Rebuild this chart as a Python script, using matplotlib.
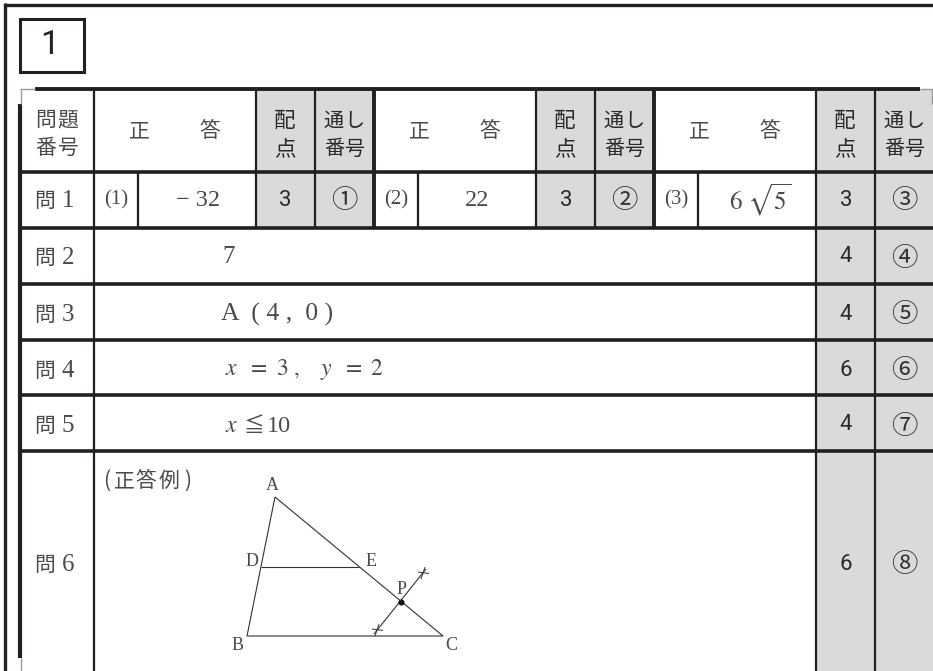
import matplotlib
matplotlib.use("Agg")
import matplotlib.pyplot as plt
from matplotlib.patches import Rectangle

plt.rcParams['font.family'] = ['Noto Sans CJK JP', 'DejaVu Sans']
plt.rcParams['mathtext.fontset'] = 'stix'

W, H = 933, 671
INK = "#231f20"
TXT = "#4a4a4a"
GRAY = "#d9dadc"
SERIF = "Liberation Serif"
SANS = "Roboto"

# table contents
section = "1"
row_names = ["問", "問", "問", "問", "問", "問"]
row_nums = ["1", "2", "3", "4", "5", "6"]
header_left = ["問題", "番号"]
points_head = ["配", "点"]
serial_head = ["通し", "番号"]
part_labels = ["(1)", "(2)", "(3)"]
points = ["3", "3", "3", "4", "4", "6", "4", "6"]
serials = ["①", "②", "③", "④", "⑤", "⑥", "⑦", "⑧"]
answer_head = ["正", "答"]
example = ["(", "正", "答", "例", ")"]
example_x = [107, 124, 146, 169, 188]

# grid, in pixels
row_y = [172, 228, 284, 340, 395, 451]
row_mid = [200, 257, 314, 370, 425, 564]
group_x = [256, 536, 816]
sub_x = [138, 418, 698]

# triangle figure
A = (275, 497)
B = (247, 636)
C = (443, 636)
D = (261, 567)
E = (359, 567)
P = (401, 602)
tick1 = (423, 573)
tick2 = (377, 630)
fig_labels = ["A", "B", "C", "D", "E", "P"]
fig_label_x = [272, 238, 451, 252, 371, 402]
fig_label_y = [486, 645, 645, 561, 561, 589]

fig = plt.figure(figsize=(W / 100, H / 100), dpi=100)
ax = fig.add_axes([0, 0, 1, 1])
ax.set_xlim(0, W)
ax.set_ylim(H, 0)
ax.axis("off")


def line(x, y, lw=1.6, color=INK):
    ax.plot(x, y, color=color, lw=lw, solid_capstyle="butt", zorder=3)


def cjk(x, y, s, size=15, color=TXT):
    ax.text(x, y + 1, s, ha="center", va="center", fontsize=size, color=color, zorder=4)


def ser(x, y, s, size=17):
    ax.text(x, y, s, ha="center", va="center", fontsize=size, color=TXT, family=SERIF, zorder=4)


# gray columns
for gx in group_x[:2]:
    ax.add_patch(Rectangle((gx, 89), 118, 139, fc=GRAY, ec="none", zorder=1))
ax.add_patch(Rectangle((816, 89), 117, H - 89, fc=GRAY, ec="none", zorder=1))

# outer border and section box
line([5, 5], [3, H], lw=2.4)
line([3.5, W], [5, 5], lw=2.4)
ax.add_patch(Rectangle((19.5, 18.5), 64, 53.5, fc="white", ec=INK, lw=2.2, zorder=3))
ax.text(50, 45, section, ha="center", va="center", fontsize=24, color="#222222", family=SANS, zorder=4)

# table frame
line([35, 920], [89, 89], lw=2.8)
line([20, 20], [104, 658], lw=3)
line([20, 35], [89, 89], lw=1, color="#9a9a9a")
line([20.5, 20.5], [89, 104], lw=1, color="#9a9a9a")
line([920, 933], [89, 89], lw=1, color="#9a9a9a")
line([932, 932], [89, 104], lw=1, color="#9a9a9a")
line([20.5, 20.5], [658, H], lw=1, color="#9a9a9a")

for y in row_y:
    line([20, W], [y, y], lw=2.6)
line([94, 94], [89, H], lw=1.6)
line([816, 816], [89, H], lw=1.6)
line([875, 875], [89, H], lw=1.6)
for gx in group_x[:2]:
    line([gx, gx], [89, 228], lw=1.6)
    line([gx + 59, gx + 59], [89, 228], lw=1.6)
line([373.5, 373.5], [89, 228], lw=2.8)
line([654, 654], [89, 228], lw=2.8)
for sx in sub_x:
    line([sx, sx], [172, 228], lw=1.6)

# header text
for i, y in enumerate([119, 147]):
    cjk(46, y, header_left[i][0], 15)
    cjk(68, y, header_left[i][1], 15)
for gx in group_x:
    cjk(gx - 117, 130, answer_head[0], 15)
    cjk(gx - 46, 130, answer_head[1], 15)
    cjk(gx + 29, 120, points_head[0], 15.5, "#2a2a2a")
    cjk(gx + 29, 148, points_head[1], 15.5, "#2a2a2a")
    for i, y in enumerate([120, 148]):
        cjk(gx + 78, y, serial_head[i][0], 14.5, "#2a2a2a")
        cjk(gx + 98, y, serial_head[i][1], 14.5, "#2a2a2a")

# row names
for name, num, y in zip(row_names, row_nums, row_mid):
    cjk(45, y, name, 15)
    ser(68, y + 1, num, 18)

# part labels and answers
for label, sx in zip(part_labels, sub_x):
    ser(sx - 22, 200, label, 15)
ser(198, 201, "− 32", 17.5)
ser(477, 201, "22", 17.5)
ax.text(760, 200, r"$6\ \sqrt{5}$", ha="center", va="center", fontsize=18, color=TXT, zorder=4)
ser(229, 257, "7", 18)
ax.text(277, 314, "A  ( 4 ,  0 )", ha="center", va="center", fontsize=18.5, color=TXT, family=SERIF, zorder=4)
ax.text(225, 370, r"$x\ \ =\ 3\ ,\quad y\ \ =\ 2$", ha="left", va="center", fontsize=17, color=TXT, zorder=4)
ax.text(225, 425, r"$x$", ha="left", va="center", fontsize=17, color=TXT, zorder=4)
cjk(254, 425, "≦", 15)
ser(279, 426, "10", 17.5)

# points and serial numbers
pts_x = [285, 566, 846, 846, 846, 846, 846, 846]
ser_x = [344, 624, 904, 904, 904, 904, 904, 904]
pts_y = [200, 200, 200, 257, 314, 370, 425, 564]
for p, s, px, qx, y in zip(points, serials, pts_x, ser_x, pts_y):
    ax.text(px, y, p, ha="center", va="center", fontsize=16, color="#2a2a2a", family=SANS, zorder=4)
    cjk(qx, y, s, 19, "#333333")

# example figure
for s, x in zip(example, example_x):
    cjk(x, 480, s, 15)
line([A[0], B[0], C[0], A[0]], [A[1], B[1], C[1], A[1]], lw=0.8, color="#333333")
line([D[0], E[0]], [D[1], E[1]], lw=0.8, color="#333333")
line([tick2[0] - 3, tick1[0] + 3], [tick2[1] + 4, tick1[1] - 4], lw=0.8, color="#333333")
for t in [tick1, tick2]:
    line([t[0] - 5, t[0] + 6], [t[1] - 1, t[1] + 0.5], lw=0.7, color="#333333")
    line([t[0] - 2, t[0] + 2], [t[1] + 6, t[1] - 6], lw=0.7, color="#333333")
ax.plot([P[0]], [P[1]], "o", ms=3.4, color="#111111", zorder=4)
for s, x, y in zip(fig_labels, fig_label_x, fig_label_y):
    ser(x, y, s, 13)

fig.savefig("out.png", dpi=100)
